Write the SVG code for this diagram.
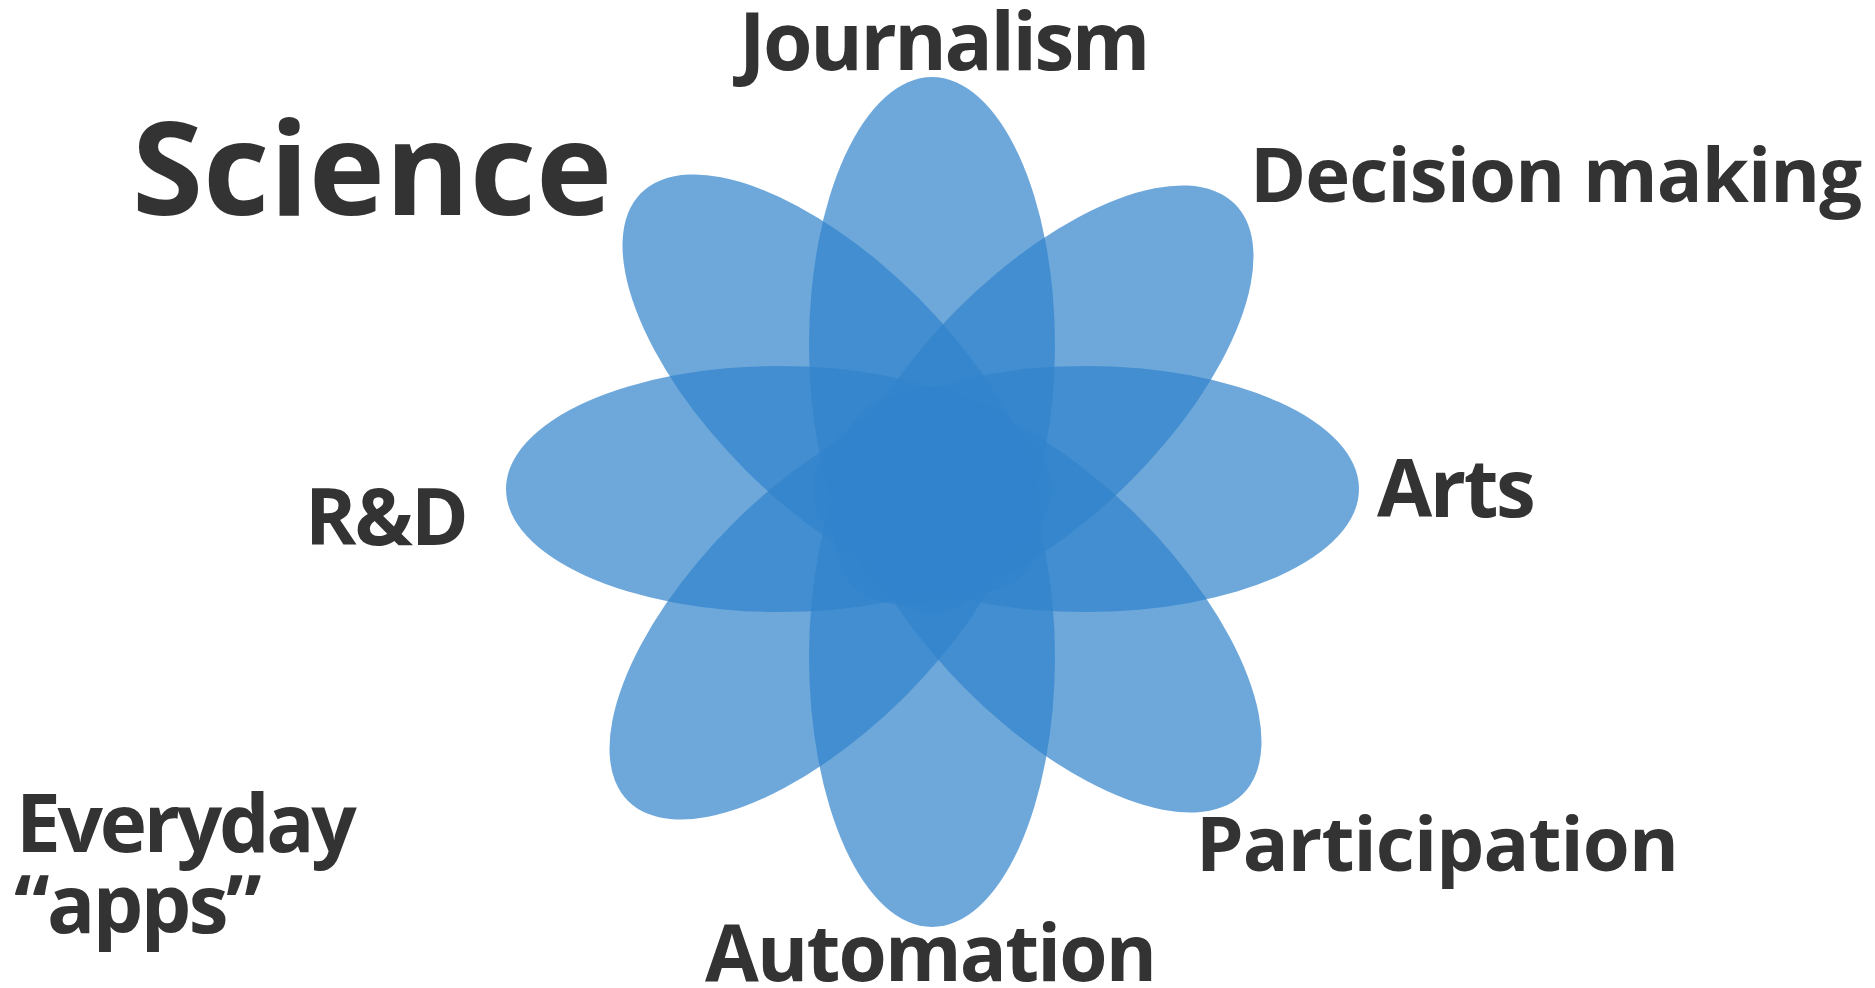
<svg xmlns="http://www.w3.org/2000/svg" width="1875" height="988" viewBox="0 0 1875 988">
<style>
.petal{fill:#3183cc;fill-opacity:0.7}
.lbl{font-family:"Open Sans","Liberation Sans",sans-serif;font-weight:700;fill:#333333}
</style>
<rect width="1875" height="988" fill="#ffffff"/>
<g id="flower">
<ellipse id="petal-top" class="petal" cx="932" cy="345" rx="123" ry="268"/>
<ellipse id="petal-bottom" class="petal" cx="932" cy="657" rx="123" ry="270"/>
<ellipse id="petal-left" class="petal" cx="779" cy="489" rx="273" ry="123"/>
<ellipse id="petal-right" class="petal" cx="1086" cy="489" rx="273" ry="123"/>
<ellipse id="petal-tl" class="petal" cx="832" cy="384" rx="270" ry="122" transform="rotate(45 832 384)"/>
<ellipse id="petal-tr" class="petal" cx="1044" cy="395" rx="270" ry="122" transform="rotate(-45 1044 395)"/>
<ellipse id="petal-bl" class="petal" cx="819" cy="610" rx="270" ry="122" transform="rotate(-45 819 610)"/>
<ellipse id="petal-br" class="petal" cx="1052" cy="603" rx="270" ry="122" transform="rotate(45 1052 603)"/>
</g>
<g id="labels">
<g id="n-journalism"><text class="lbl" x="739" y="70" font-size="80" letter-spacing="-2.4">Journalism</text></g>
<g id="n-science"><text class="lbl" x="132" y="215" font-size="129">Science</text></g>
<g id="n-decision"><text class="lbl" x="1250" y="202" font-size="76" letter-spacing="-0.9">Decision making</text></g>
<g id="n-arts"><text class="lbl" x="1377" y="517" font-size="80" letter-spacing="-2.4">Arts</text></g>
<g id="n-rd"><text class="lbl" x="305" y="545" font-size="78" letter-spacing="-2">R&amp;D</text></g>
<g id="n-everyday"><text class="lbl" x="16" y="852" font-size="80" letter-spacing="-3.3">Everyday</text><text class="lbl" x="14" y="933" font-size="80" letter-spacing="-2.6">“apps”</text></g>
<g id="n-participation"><text class="lbl" x="1196" y="871" font-size="76" letter-spacing="-0.9">Participation</text></g>
<g id="n-automation"><text class="lbl" x="705" y="981" font-size="78" letter-spacing="-1.8">Automation</text></g>
</g>
</svg>
